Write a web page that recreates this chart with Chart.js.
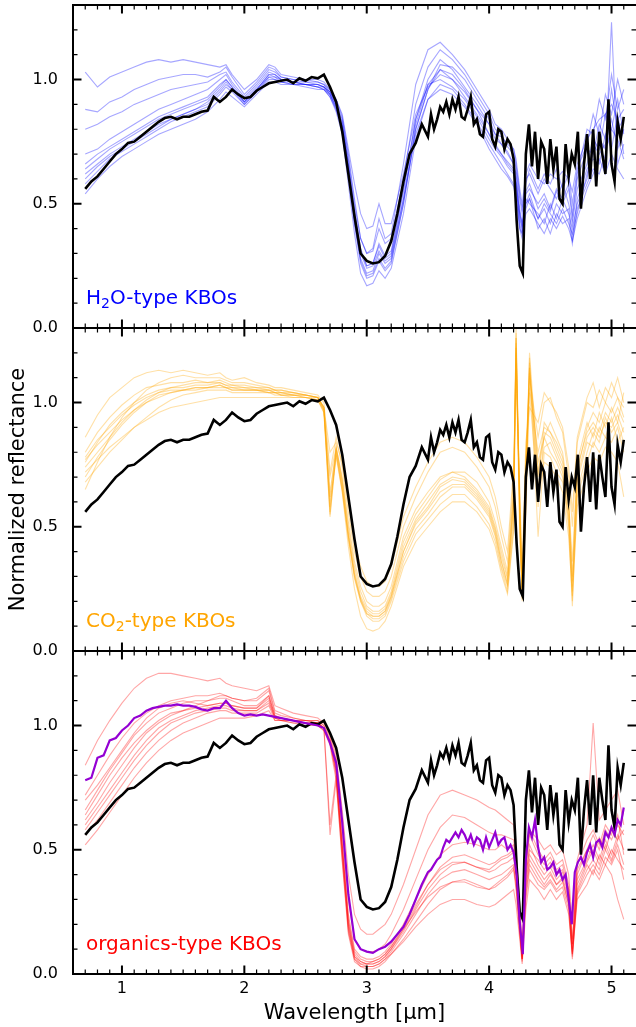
<!DOCTYPE html>
<html lang="en">
<head>
<meta charset="UTF-8">
<title>KBO spectral types</title>
<script src="https://cdn.jsdelivr.net/npm/chart.js"></script>
<style>
  body { margin: 0; background: #fff; }
  #wrap { position: relative; width: 636px; height: 1027px; overflow: hidden; font-family: 'DejaVu Sans', sans-serif; }
  #wrap canvas { position: absolute; left: 0; top: 0; }
  .tag { position: absolute; left: 86px; font-size: 20px; line-height: 20px; white-space: nowrap; z-index: 5; }
  .tag sub { font-size: 14px; vertical-align: -4px; line-height: 0; }
</style>
</head>
<body>
<div id="wrap">
  <canvas id="p1" width="636" height="1027"></canvas>
  <canvas id="p2" width="636" height="1027"></canvas>
  <canvas id="p3" width="636" height="1027"></canvas>
  <div class="tag" style="top:287px;color:#0000ff">H<sub>2</sub>O-type KBOs</div>
  <div class="tag" style="top:610px;color:#ffa500">CO<sub>2</sub>-type KBOs</div>
  <div class="tag" style="top:933px;color:#ff0000">organics-type KBOs</div>
</div>
<script>
// wavelength grid (um) for the black reference and the purple mean spectrum
const wl = [
  0.70, 0.75, 0.80, 0.85, 0.90, 0.95, 1.00, 1.05, 1.10, 1.15,
  1.20, 1.25, 1.30, 1.35, 1.40, 1.45, 1.50, 1.55, 1.60, 1.65,
  1.70, 1.75, 1.80, 1.85, 1.90, 1.95, 2.00, 2.05, 2.10, 2.15,
  2.20, 2.25, 2.30, 2.35, 2.40, 2.45, 2.50, 2.55, 2.60, 2.65,
  2.70, 2.75, 2.80, 2.85, 2.90, 2.95, 3.00, 3.05, 3.10, 3.15,
  3.20, 3.25, 3.30, 3.35, 3.40, 3.45, 3.50,
  3.525, 3.55, 3.575, 3.60, 3.625, 3.65, 3.675, 3.70, 3.725, 3.75,
  3.775, 3.80, 3.825, 3.85, 3.875, 3.90, 3.925, 3.95, 3.975, 4.00,
  4.025, 4.05, 4.075, 4.10, 4.125, 4.15, 4.175, 4.20, 4.225, 4.25,
  4.275, 4.30, 4.325, 4.35, 4.375, 4.40, 4.425, 4.45, 4.475, 4.50,
  4.525, 4.55, 4.575, 4.60, 4.625, 4.65, 4.675, 4.70, 4.725, 4.75,
  4.775, 4.80, 4.825, 4.85, 4.875, 4.90, 4.925, 4.95, 4.975, 5.00,
  5.025, 5.05, 5.075, 5.10
];

// black reference spectrum (same in every panel)
const refSpec = [
  0.56, 0.59, 0.61, 0.64, 0.67, 0.70, 0.72, 0.745, 0.75, 0.77,
  0.79, 0.81, 0.83, 0.845, 0.85, 0.84, 0.85, 0.85, 0.86, 0.87,
  0.875, 0.93, 0.91, 0.93, 0.96, 0.94, 0.925, 0.93, 0.955, 0.97,
  0.985, 0.99, 0.995, 1.0, 0.985, 1.005, 0.995, 1.01, 1.005, 1.02,
  0.97, 0.91, 0.79, 0.62, 0.45, 0.30, 0.27, 0.26, 0.265, 0.29,
  0.35, 0.46, 0.59, 0.70, 0.745, 0.82, 0.77,
  0.86, 0.80, 0.84, 0.89, 0.87, 0.91, 0.86, 0.92, 0.88, 0.93,
  0.85, 0.84, 0.88, 0.93, 0.82, 0.84, 0.78, 0.77, 0.86, 0.87,
  0.76, 0.73, 0.80, 0.79, 0.72, 0.76, 0.74, 0.68, 0.43, 0.25,
  0.22, 0.70, 0.82, 0.65, 0.79, 0.60, 0.75, 0.72, 0.58, 0.76,
  0.64, 0.73, 0.52, 0.50, 0.74, 0.61, 0.70, 0.66, 0.79, 0.48,
  0.66, 0.78, 0.60, 0.80, 0.57, 0.79, 0.70, 0.62, 0.92, 0.66,
  0.59, 0.83, 0.76, 0.85
];

// purple organics mean spectrum (bottom panel)
const purpleSpec = [
  0.78, 0.79, 0.87, 0.88, 0.94, 0.95, 0.98, 1.00, 1.03, 1.04,
  1.06, 1.07, 1.075, 1.08, 1.08, 1.085, 1.08, 1.08, 1.075, 1.065,
  1.06, 1.07, 1.07, 1.10, 1.07, 1.05, 1.04, 1.045, 1.04, 1.045,
  1.04, 1.035, 1.03, 1.025, 1.02, 1.015, 1.01, 1.005, 1.0, 0.99,
  0.93, 0.85, 0.61, 0.32, 0.14, 0.10, 0.09, 0.085, 0.10, 0.11,
  0.13, 0.16, 0.19, 0.24, 0.30, 0.36, 0.41,
  0.42, 0.44, 0.46, 0.47, 0.51, 0.54, 0.53, 0.55, 0.57, 0.55,
  0.58, 0.56, 0.53, 0.56, 0.52, 0.55, 0.54, 0.50, 0.55, 0.51,
  0.54, 0.57, 0.52, 0.54, 0.55, 0.50, 0.52, 0.49, 0.40, 0.21,
  0.08, 0.46, 0.59, 0.55, 0.62, 0.51, 0.45, 0.47, 0.42, 0.43,
  0.45, 0.40, 0.42, 0.38, 0.40, 0.30, 0.20, 0.41, 0.45, 0.47,
  0.44, 0.49, 0.52, 0.47, 0.53, 0.54, 0.51, 0.57, 0.55, 0.59,
  0.56, 0.62, 0.60, 0.67
];

// coarser grid for the individual KBO spectra
const wlT = [
  0.7, 0.8, 0.9, 1.0, 1.1, 1.2, 1.3, 1.4, 1.5, 1.6,
  1.7, 1.8, 1.85, 1.9, 2.0, 2.1, 2.2, 2.25, 2.3, 2.4,
  2.5, 2.6, 2.65, 2.7, 2.75, 2.8, 2.85, 2.9, 2.95, 3.0,
  3.05, 3.1, 3.15, 3.2, 3.3, 3.4, 3.5, 3.6, 3.7, 3.8,
  3.9, 4.0, 4.05, 4.1, 4.15, 4.2, 4.22, 4.25, 4.27, 4.3,
  4.33, 4.4, 4.45, 4.5, 4.55, 4.6, 4.65, 4.68, 4.72, 4.8,
  4.85, 4.9, 4.95, 5.0, 5.05, 5.1
];

const h2oSpectra = [
  [1.03, 0.97, 1.01, 1.03, 1.05, 1.07, 1.08, 1.07, 1.08, 1.07,
   1.06, 1.05, 1.06, 1.02, 0.96, 1.0, 1.06, 1.05, 1.02, 1.01,
   1.0, 1.0, 0.99, 0.96, 0.92, 0.86, 0.72, 0.58, 0.46, 0.40,
   0.41, 0.50, 0.42, 0.42, 0.62, 0.86, 0.97, 1.02, 1.0, 0.95,
   0.88, 0.82, 0.78, 0.77, 0.74, 0.72, 0.68, 0.56, 0.50, 0.62,
   0.66, 0.60, 0.58, 0.62, 0.60, 0.63, 0.60, 0.55, 0.66, 0.76,
   0.80, 0.84, 0.86, 0.90, 0.84, 0.88],
  [0.88, 0.87, 0.91, 0.93, 0.96, 0.98, 1.0, 1.01, 1.02, 1.02,
   1.01, 1.03, 1.05, 1.01, 0.94, 0.99, 1.05, 1.04, 1.01, 1.0,
   1.0, 0.99, 0.98, 0.95, 0.90, 0.82, 0.66, 0.48, 0.32, 0.25,
   0.26, 0.33, 0.28, 0.30, 0.55, 0.84, 1.0, 1.08, 1.04, 0.97,
   0.90, 0.82, 0.76, 0.74, 0.71, 0.66, 0.62, 0.48, 0.42, 0.55,
   0.58, 0.48, 0.52, 0.47, 0.55, 0.50, 0.56, 0.44, 0.60, 0.72,
   0.70, 0.82, 0.76, 0.96, 0.80, 0.84],
  [0.80, 0.82, 0.85, 0.87, 0.90, 0.92, 0.94, 0.96, 0.97, 0.98,
   0.99, 1.02, 1.03, 0.99, 0.93, 0.98, 1.04, 1.03, 1.01, 1.0,
   0.99, 0.99, 0.98, 0.96, 0.92, 0.85, 0.70, 0.52, 0.36, 0.30,
   0.31, 0.40, 0.34, 0.36, 0.60, 0.90, 1.05, 1.12, 1.08, 1.02,
   0.94, 0.86, 0.80, 0.78, 0.73, 0.70, 0.64, 0.52, 0.46, 0.60,
   0.62, 0.54, 0.60, 0.56, 0.52, 0.58, 0.50, 0.42, 0.56, 0.66,
   0.76, 0.72, 0.86, 0.80, 0.92, 0.78],
  [0.70, 0.72, 0.76, 0.79, 0.82, 0.85, 0.88, 0.90, 0.92, 0.94,
   0.96, 1.0, 1.02, 0.98, 0.92, 0.97, 1.03, 1.02, 1.0, 0.99,
   0.99, 0.98, 0.97, 0.94, 0.88, 0.80, 0.62, 0.42, 0.27, 0.21,
   0.22, 0.28, 0.24, 0.27, 0.50, 0.80, 0.96, 1.04, 1.02, 0.96,
   0.88, 0.78, 0.74, 0.70, 0.66, 0.63, 0.58, 0.42, 0.38, 0.50,
   0.54, 0.44, 0.48, 0.42, 0.50, 0.46, 0.48, 0.36, 0.52, 0.64,
   0.68, 0.66, 0.78, 0.72, 0.86, 0.70],
  [0.66, 0.70, 0.73, 0.76, 0.79, 0.82, 0.85, 0.87, 0.89, 0.91,
   0.93, 0.98, 1.0, 0.97, 0.91, 0.96, 1.02, 1.01, 1.0, 0.99,
   0.98, 0.98, 0.97, 0.95, 0.90, 0.83, 0.66, 0.46, 0.31, 0.25,
   0.26, 0.34, 0.29, 0.31, 0.56, 0.84, 0.98, 1.0, 0.97, 0.92,
   0.85, 0.76, 0.72, 0.69, 0.65, 0.62, 0.56, 0.44, 0.40, 0.52,
   0.50, 0.46, 0.42, 0.50, 0.44, 0.52, 0.46, 0.40, 0.50, 0.60,
   0.74, 0.70, 0.74, 0.84, 0.72, 0.80],
  [0.62, 0.66, 0.70, 0.73, 0.76, 0.79, 0.82, 0.84, 0.86, 0.88,
   0.91, 0.96, 0.99, 0.96, 0.90, 0.95, 1.01, 1.01, 0.99, 0.98,
   0.98, 0.97, 0.96, 0.93, 0.87, 0.78, 0.58, 0.38, 0.22, 0.17,
   0.18, 0.23, 0.20, 0.24, 0.46, 0.76, 0.92, 0.98, 0.96, 0.90,
   0.83, 0.74, 0.70, 0.66, 0.62, 0.58, 0.54, 0.40, 0.36, 0.48,
   0.52, 0.40, 0.44, 0.38, 0.46, 0.42, 0.44, 0.34, 0.48, 0.58,
   0.64, 0.62, 0.70, 1.23, 0.66, 0.74],
  [0.58, 0.63, 0.68, 0.71, 0.74, 0.77, 0.80, 0.83, 0.85, 0.87,
   0.89, 0.94, 0.97, 0.95, 0.90, 0.95, 1.0, 1.0, 0.99, 0.98,
   0.98, 0.97, 0.97, 0.94, 0.89, 0.80, 0.62, 0.42, 0.26, 0.20,
   0.21, 0.27, 0.23, 0.26, 0.50, 0.80, 0.96, 1.06, 1.05, 1.0,
   0.92, 0.84, 0.78, 0.74, 0.70, 0.66, 0.60, 0.46, 0.40, 0.54,
   0.56, 0.50, 0.54, 0.48, 0.56, 0.52, 0.58, 0.46, 0.62, 0.80,
   0.78, 0.92, 0.84, 1.02, 0.88, 0.96],
  [0.54, 0.60, 0.65, 0.69, 0.72, 0.75, 0.78, 0.80, 0.82, 0.84,
   0.87, 0.92, 0.95, 0.93, 0.89, 0.94, 0.99, 0.99, 0.98, 0.98,
   0.97, 0.96, 0.96, 0.93, 0.88, 0.81, 0.64, 0.45, 0.30, 0.24,
   0.25, 0.31, 0.27, 0.29, 0.52, 0.78, 0.92, 0.96, 0.94, 0.89,
   0.82, 0.72, 0.68, 0.64, 0.61, 0.57, 0.52, 0.40, 0.38, 0.46,
   0.48, 0.42, 0.38, 0.44, 0.40, 0.45, 0.40, 0.35, 0.44, 0.56,
   0.62, 0.68, 0.62, 0.70, 0.64, 0.60],
  [0.64, 0.68, 0.72, 0.75, 0.78, 0.81, 0.84, 0.86, 0.88, 0.90,
   0.92, 0.97, 1.0, 0.97, 0.91, 0.96, 1.02, 1.02, 1.0, 0.99,
   0.98, 0.98, 0.97, 0.95, 0.91, 0.84, 0.68, 0.50, 0.36, 0.30,
   0.32, 0.44, 0.36, 0.38, 0.66, 0.98, 1.12, 1.15, 1.10, 1.04,
   0.96, 0.88, 0.82, 0.80, 0.76, 0.72, 0.66, 0.54, 0.48, 0.58,
   0.64, 0.56, 0.62, 0.58, 0.64, 0.56, 0.62, 0.50, 0.64, 0.74,
   0.86, 0.78, 0.94, 0.86, 1.0, 0.90],
  [0.60, 0.65, 0.69, 0.72, 0.75, 0.78, 0.81, 0.84, 0.86, 0.88,
   0.90, 0.95, 0.98, 0.96, 0.91, 0.96, 1.01, 1.0, 0.99, 0.99,
   0.98, 0.97, 0.96, 0.94, 0.89, 0.81, 0.64, 0.44, 0.28, 0.22,
   0.23, 0.30, 0.26, 0.28, 0.52, 0.82, 0.98, 1.04, 1.0, 0.93,
   0.86, 0.78, 0.73, 0.70, 0.67, 0.64, 0.58, 0.46, 0.42, 0.50,
   0.52, 0.44, 0.50, 0.46, 0.42, 0.48, 0.42, 0.38, 0.46, 0.62,
   0.70, 0.76, 0.72, 0.80, 0.76, 0.68]
];

const co2Spectra = [
  [0.86, 0.95, 1.02, 1.06, 1.10, 1.12, 1.13, 1.12, 1.13, 1.12,
   1.11, 1.12, 1.10, 1.09, 1.10, 1.08, 1.07, 1.06, 1.06, 1.05,
   1.04, 1.03, 1.0, 0.72, 0.86, 0.74, 0.56, 0.40, 0.30, 0.24,
   0.22, 0.22, 0.24, 0.30, 0.50, 0.62, 0.72, 0.80, 0.82, 0.80,
   0.74, 0.66, 0.58, 0.46, 0.36, 0.70, 1.20, 0.62, 0.30, 0.80,
   1.10, 0.86, 1.0, 1.02, 0.94, 0.88, 0.70, 0.50, 0.84, 1.0,
   0.98, 1.05, 1.0, 1.08, 1.02, 0.98],
  [0.80, 0.88, 0.94, 0.99, 1.03, 1.06, 1.07, 1.08, 1.08, 1.09,
   1.08, 1.09, 1.08, 1.07, 1.07, 1.06, 1.06, 1.05, 1.05, 1.04,
   1.03, 1.02, 0.98, 0.56, 0.82, 0.68, 0.48, 0.32, 0.22, 0.17,
   0.15, 0.15, 0.17, 0.23, 0.42, 0.53, 0.60, 0.67, 0.70, 0.69,
   0.64, 0.57, 0.49, 0.38, 0.29, 0.62, 1.28, 0.55, 0.24, 0.72,
   1.18, 0.58, 0.88, 0.86, 0.80, 0.74, 0.56, 0.24, 0.70, 0.86,
   0.90, 0.86, 0.92, 0.90, 0.95, 0.88],
  [0.76, 0.84, 0.91, 0.96, 1.0, 1.03, 1.05, 1.06, 1.06, 1.07,
   1.07, 1.08, 1.07, 1.06, 1.06, 1.05, 1.05, 1.04, 1.04, 1.03,
   1.03, 1.02, 0.97, 0.54, 0.80, 0.66, 0.46, 0.30, 0.21, 0.16,
   0.14, 0.14, 0.16, 0.22, 0.40, 0.51, 0.57, 0.64, 0.67, 0.67,
   0.62, 0.55, 0.47, 0.36, 0.27, 0.58, 1.24, 0.50, 0.22, 0.66,
   1.12, 0.66, 0.82, 0.84, 0.78, 0.72, 0.52, 0.20, 0.68, 0.84,
   0.82, 0.90, 0.86, 0.94, 0.84, 0.90],
  [0.74, 0.80, 0.86, 0.92, 0.97, 1.0, 1.03, 1.04, 1.05, 1.05,
   1.06, 1.06, 1.06, 1.05, 1.05, 1.05, 1.04, 1.04, 1.03, 1.03,
   1.02, 1.01, 0.96, 0.60, 0.78, 0.64, 0.45, 0.29, 0.20, 0.15,
   0.13, 0.13, 0.15, 0.21, 0.38, 0.49, 0.55, 0.62, 0.66, 0.66,
   0.61, 0.54, 0.46, 0.34, 0.26, 0.54, 1.30, 0.58, 0.20, 0.62,
   1.20, 0.72, 0.86, 0.80, 0.76, 0.70, 0.54, 0.26, 0.64, 0.80,
   0.88, 0.84, 0.94, 0.88, 0.92, 0.84],
  [0.72, 0.77, 0.82, 0.86, 0.90, 0.93, 0.96, 0.98, 0.99, 1.0,
   1.01, 1.02, 1.02, 1.02, 1.02, 1.02, 1.02, 1.02, 1.02, 1.02,
   1.02, 1.01, 0.97, 0.70, 0.82, 0.70, 0.52, 0.36, 0.26, 0.20,
   0.18, 0.18, 0.20, 0.26, 0.46, 0.57, 0.64, 0.70, 0.72, 0.72,
   0.68, 0.60, 0.52, 0.42, 0.32, 0.66, 1.16, 0.60, 0.26, 0.76,
   1.06, 0.80, 0.90, 0.88, 0.84, 0.78, 0.60, 0.36, 0.74, 0.88,
   0.92, 0.88, 0.96, 0.92, 0.98, 0.92],
  [0.68, 0.74, 0.80, 0.85, 0.90, 0.94, 0.98, 1.01, 1.03, 1.04,
   1.05, 1.05, 1.05, 1.04, 1.04, 1.04, 1.04, 1.03, 1.03, 1.02,
   1.02, 1.01, 0.96, 0.55, 0.79, 0.65, 0.46, 0.30, 0.20, 0.14,
   0.12, 0.12, 0.14, 0.20, 0.36, 0.47, 0.53, 0.59, 0.63, 0.63,
   0.58, 0.51, 0.44, 0.33, 0.24, 0.50, 1.26, 0.52, 0.21, 0.58,
   1.16, 0.46, 0.80, 0.78, 0.72, 0.68, 0.50, 0.18, 0.62, 0.76,
   0.84, 0.80, 0.86, 0.84, 0.90, 0.80],
  [0.65, 0.76, 0.86, 0.94, 1.0, 1.05, 1.08, 1.10, 1.11, 1.10,
   1.10, 1.10, 1.09, 1.08, 1.08, 1.07, 1.06, 1.05, 1.05, 1.04,
   1.03, 1.02, 0.98, 0.58, 0.80, 0.64, 0.42, 0.25, 0.14, 0.09,
   0.08, 0.09, 0.12, 0.18, 0.34, 0.44, 0.50, 0.56, 0.60, 0.60,
   0.56, 0.49, 0.42, 0.31, 0.23, 0.48, 1.22, 0.46, 0.22, 0.56,
   1.04, 0.62, 0.76, 0.74, 0.70, 0.64, 0.46, 0.22, 0.58, 0.72,
   0.78, 0.76, 0.82, 0.80, 0.76, 0.62],
  [0.78, 0.85, 0.90, 0.95, 0.99, 1.02, 1.04, 1.05, 1.05, 1.06,
   1.06, 1.07, 1.06, 1.05, 1.05, 1.05, 1.04, 1.04, 1.03, 1.03,
   1.02, 1.02, 0.98, 0.80, 0.84, 0.76, 0.60, 0.44, 0.34, 0.28,
   0.26, 0.26, 0.28, 0.34, 0.54, 0.66, 0.76, 0.84, 0.86, 0.84,
   0.78, 0.70, 0.62, 0.50, 0.40, 0.74, 1.10, 0.66, 0.32, 0.84,
   0.98, 0.92, 1.04, 1.0, 0.96, 0.90, 0.74, 0.56, 0.86, 1.02,
   1.08, 0.98, 1.06, 1.02, 1.10, 1.0],
  [0.70, 0.78, 0.85, 0.91, 0.96, 1.0, 1.02, 1.04, 1.05, 1.06,
   1.06, 1.07, 1.06, 1.06, 1.05, 1.05, 1.05, 1.04, 1.04, 1.03,
   1.03, 1.02, 0.97, 0.64, 0.81, 0.67, 0.47, 0.31, 0.21, 0.15,
   0.14, 0.14, 0.16, 0.22, 0.40, 0.52, 0.58, 0.66, 0.69, 0.68,
   0.63, 0.56, 0.48, 0.36, 0.27, 0.60, 1.22, 0.56, 0.23, 0.68,
   1.14, 0.70, 0.92, 0.88, 0.82, 0.76, 0.58, 0.30, 0.72, 0.90,
   0.96, 0.92, 1.0, 0.96, 1.02, 0.94],
  [0.77, 0.83, 0.88, 0.93, 0.97, 1.01, 1.04, 1.06, 1.07, 1.08,
   1.08, 1.08, 1.07, 1.07, 1.06, 1.06, 1.05, 1.05, 1.04, 1.04,
   1.03, 1.02, 0.98, 0.62, 0.82, 0.69, 0.50, 0.34, 0.24, 0.18,
   0.16, 0.16, 0.18, 0.24, 0.44, 0.55, 0.62, 0.69, 0.72, 0.70,
   0.65, 0.58, 0.50, 0.40, 0.30, 0.64, 1.26, 0.58, 0.25, 0.74,
   1.14, 0.76, 0.86, 0.92, 0.86, 0.80, 0.62, 0.28, 0.76, 0.92,
   0.86, 0.96, 0.90, 0.98, 0.92, 1.04]
];

const orgSpectra = [
  [0.84, 0.94, 1.02, 1.09, 1.15, 1.19, 1.21, 1.21, 1.20, 1.19,
   1.18, 1.19, 1.17, 1.16, 1.15, 1.14, 1.16, 1.08, 1.07, 1.05,
   1.04, 1.03, 1.01, 0.97, 0.88, 0.66, 0.40, 0.24, 0.18, 0.16,
   0.16, 0.18, 0.20, 0.24, 0.36, 0.50, 0.64, 0.72, 0.74, 0.72,
   0.70, 0.67, 0.66, 0.64, 0.62, 0.60, 0.50, 0.28, 0.12, 0.46,
   0.58, 0.54, 0.50, 0.52, 0.48, 0.50, 0.40, 0.20, 0.46, 0.60,
   1.01, 0.62, 0.66, 0.70, 0.74, 0.60],
  [0.72, 0.80, 0.88, 0.95, 1.01, 1.05, 1.08, 1.10, 1.11, 1.12,
   1.12, 1.13, 1.12, 1.11, 1.10, 1.10, 1.14, 1.05, 1.04, 1.03,
   1.02, 1.02, 1.0, 0.95, 0.84, 0.56, 0.24, 0.10, 0.07, 0.06,
   0.06, 0.07, 0.09, 0.12, 0.20, 0.30, 0.40, 0.48, 0.52, 0.53,
   0.52, 0.50, 0.50, 0.52, 0.50, 0.52, 0.42, 0.22, 0.08, 0.40,
   0.50, 0.46, 0.42, 0.45, 0.40, 0.42, 0.34, 0.12, 0.40, 0.50,
   0.48, 0.55, 0.50, 0.58, 0.54, 0.66],
  [0.66, 0.74, 0.82, 0.89, 0.96, 1.01, 1.05, 1.07, 1.09, 1.10,
   1.10, 1.11, 1.11, 1.10, 1.08, 1.08, 1.12, 1.04, 1.03, 1.02,
   1.02, 1.01, 0.99, 0.60, 0.80, 0.50, 0.20, 0.07, 0.04, 0.03,
   0.03, 0.04, 0.06, 0.09, 0.16, 0.24, 0.32, 0.38, 0.41, 0.42,
   0.40, 0.38, 0.39, 0.40, 0.42, 0.44, 0.36, 0.18, 0.06, 0.34,
   0.46, 0.40, 0.36, 0.40, 0.36, 0.38, 0.28, 0.08, 0.34, 0.44,
   0.40, 0.48, 0.44, 0.50, 0.46, 0.42],
  [0.60, 0.67, 0.74, 0.81, 0.88, 0.94, 0.99, 1.02, 1.04, 1.06,
   1.07, 1.08, 1.08, 1.07, 1.06, 1.06, 1.10, 1.03, 1.02, 1.02,
   1.01, 1.01, 0.99, 0.94, 0.82, 0.52, 0.21, 0.08, 0.05, 0.04,
   0.04, 0.05, 0.07, 0.10, 0.17, 0.26, 0.34, 0.40, 0.44, 0.45,
   0.43, 0.41, 0.42, 0.44, 0.45, 0.47, 0.40, 0.20, 0.07, 0.38,
   0.52, 0.44, 0.40, 0.43, 0.38, 0.41, 0.32, 0.10, 0.38, 0.46,
   0.52, 0.46, 0.54, 0.48, 0.56, 0.50],
  [0.56, 0.62, 0.69, 0.76, 0.83, 0.89, 0.94, 0.98, 1.01, 1.03,
   1.05, 1.06, 1.06, 1.05, 1.05, 1.05, 1.08, 1.02, 1.02, 1.01,
   1.01, 1.0, 0.98, 0.93, 0.80, 0.48, 0.18, 0.06, 0.03, 0.02,
   0.02, 0.03, 0.05, 0.08, 0.14, 0.21, 0.28, 0.34, 0.37, 0.38,
   0.36, 0.34, 0.35, 0.37, 0.39, 0.42, 0.34, 0.16, 0.05, 0.30,
   0.42, 0.36, 0.34, 0.37, 0.33, 0.35, 0.26, 0.06, 0.32, 0.40,
   0.44, 0.40, 0.47, 0.44, 0.50, 0.38],
  [0.52, 0.58, 0.65, 0.72, 0.79, 0.85, 0.90, 0.94, 0.97, 0.99,
   1.01, 1.03, 1.03, 1.03, 1.03, 1.04, 1.06, 1.02, 1.02, 1.01,
   1.0, 1.0, 0.98, 0.92, 0.78, 0.45, 0.16, 0.05, 0.03, 0.03,
   0.03, 0.04, 0.06, 0.08, 0.13, 0.19, 0.24, 0.28, 0.30, 0.30,
   0.28, 0.27, 0.28, 0.30, 0.32, 0.34, 0.28, 0.14, 0.04, 0.26,
   0.38, 0.34, 0.30, 0.34, 0.30, 0.33, 0.24, 0.08, 0.30, 0.36,
   0.42, 0.38, 0.44, 0.40, 0.30, 0.22],
  [0.70, 0.76, 0.83, 0.90, 0.97, 1.03, 1.07, 1.09, 1.10, 1.09,
   1.08, 1.09, 1.09, 1.08, 1.07, 1.07, 1.11, 1.03, 1.03, 1.02,
   1.01, 1.01, 0.99, 0.56, 0.78, 0.46, 0.17, 0.06, 0.04, 0.04,
   0.04, 0.05, 0.07, 0.10, 0.18, 0.27, 0.36, 0.43, 0.47, 0.48,
   0.46, 0.44, 0.45, 0.47, 0.48, 0.50, 0.42, 0.20, 0.06, 0.42,
   0.56, 0.48, 0.44, 0.47, 0.42, 0.44, 0.34, 0.12, 0.42, 0.50,
   0.56, 0.50, 0.58, 0.54, 0.60, 0.56],
  [0.64, 0.72, 0.80, 0.87, 0.93, 0.98, 1.02, 1.05, 1.06, 1.08,
   1.10, 1.12, 1.12, 1.11, 1.10, 1.11, 1.15, 1.06, 1.05, 1.03,
   1.02, 1.02, 1.0, 0.96, 0.86, 0.60, 0.30, 0.14, 0.10, 0.09,
   0.09, 0.10, 0.12, 0.16, 0.26, 0.38, 0.50, 0.59, 0.64, 0.63,
   0.60, 0.57, 0.56, 0.56, 0.55, 0.54, 0.46, 0.24, 0.09, 0.44,
   0.58, 0.50, 0.46, 0.49, 0.44, 0.46, 0.36, 0.14, 0.44, 0.54,
   0.58, 0.52, 0.60, 0.56, 0.64, 0.48],
  [0.62, 0.69, 0.77, 0.84, 0.91, 0.97, 1.01, 1.04, 1.06, 1.07,
   1.08, 1.09, 1.09, 1.08, 1.07, 1.07, 1.12, 1.04, 1.03, 1.02,
   1.02, 1.01, 0.99, 0.93, 0.81, 0.50, 0.19, 0.07, 0.05, 0.04,
   0.05, 0.06, 0.08, 0.11, 0.19, 0.28, 0.36, 0.42, 0.45, 0.45,
   0.43, 0.42, 0.44, 0.46, 0.47, 0.49, 0.40, 0.19, 0.06, 0.36,
   0.48, 0.42, 0.38, 0.41, 0.36, 0.39, 0.30, 0.09, 0.36, 0.45,
   0.50, 0.44, 0.52, 0.46, 0.54, 0.58],
  [0.58, 0.65, 0.72, 0.79, 0.86, 0.92, 0.97, 1.01, 1.03, 1.05,
   1.06, 1.07, 1.07, 1.06, 1.06, 1.06, 1.09, 1.03, 1.02, 1.02,
   1.01, 1.01, 0.99, 0.94, 0.82, 0.52, 0.22, 0.09, 0.06, 0.05,
   0.05, 0.06, 0.08, 0.11, 0.18, 0.25, 0.31, 0.35, 0.37, 0.37,
   0.35, 0.34, 0.36, 0.38, 0.40, 0.43, 0.36, 0.17, 0.06, 0.32,
   0.44, 0.38, 0.35, 0.38, 0.34, 0.37, 0.28, 0.07, 0.33, 0.42,
   0.46, 0.42, 0.50, 0.45, 0.52, 0.44]
];

const xTickLabels = [1, 2, 3, 4, 5];
const yTickLabels = [0, 0.5, 1.0];

Chart.defaults.font.family = "'DejaVu Sans', sans-serif";
Chart.defaults.color = '#000';

function pts(xs, ys) {
  return xs.map((v, i) => ({ x: v, y: ys[i] }));
}

// inward ticks on all four sides plus the frame
const frameTicks = {
  id: 'frameTicks',
  afterDraw(chart) {
    const { ctx, chartArea: a } = chart;
    const xs = chart.scales.x, ys = chart.scales.y;
    ctx.save();
    ctx.strokeStyle = '#000';
    for (let i = 7; i <= 51; i++) {
      const major = i % 10 === 0;
      const px = xs.getPixelForValue(i / 10);
      const len = major ? 8.5 : 4.5;
      ctx.lineWidth = major ? 2 : 1.2;
      ctx.beginPath();
      ctx.moveTo(px, a.bottom); ctx.lineTo(px, a.bottom - len);
      ctx.moveTo(px, a.top); ctx.lineTo(px, a.top + len);
      ctx.stroke();
    }
    for (let i = 1; i <= 12; i++) {
      const major = i % 5 === 0;
      const py = ys.getPixelForValue(i / 10);
      const len = major ? 8.5 : 4.5;
      ctx.lineWidth = major ? 2 : 1.2;
      ctx.beginPath();
      ctx.moveTo(a.left, py); ctx.lineTo(a.left + len, py);
      ctx.moveTo(a.right, py); ctx.lineTo(a.right - len, py);
      ctx.stroke();
    }
    ctx.lineWidth = 2;
    ctx.beginPath();
    ctx.moveTo(a.right, a.top);
    ctx.lineTo(a.left, a.top);
    ctx.lineTo(a.left, a.bottom);
    ctx.lineTo(a.right, a.bottom);
    ctx.stroke();
    ctx.restore();
  }
};

function makePanel(id, top, bottomPad, thin, thinColor, extra, isBottom, yTitle) {
  const datasets = thin.map(s => ({
    data: pts(wlT, s),
    borderColor: thinColor,
    borderWidth: 1.1,
    order: 3
  }));
  datasets.push({ data: pts(wl, refSpec), borderColor: '#000', borderWidth: 2.6, order: 2 });
  if (extra) datasets.push(extra);

  return new Chart(document.getElementById(id), {
    type: 'line',
    data: { datasets },
    options: {
      responsive: false,
      animation: false,
      devicePixelRatio: 1,
      events: [],
      elements: { point: { radius: 0 }, line: { tension: 0, borderCapStyle: 'butt' } },
      layout: { padding: { left: 0, right: 0, top: top, bottom: bottomPad } },
      plugins: { legend: { display: false }, tooltip: { enabled: false } },
      scales: {
        x: {
          type: 'linear',
          min: 0.6,
          max: 5.2,
          display: isBottom,
          grid: { display: false, drawTicks: false },
          border: { display: false },
          ticks: { font: { size: 16 }, padding: 5, callback: v => String(v) },
          afterBuildTicks: s => { s.ticks = xTickLabels.map(v => ({ value: v })); },
          afterFit: s => { s.height = isBottom ? 53 : 0; s.paddingLeft = 0; s.paddingRight = 0; },
          title: {
            display: isBottom,
            text: 'Wavelength [μm]',
            font: { size: 21 },
            padding: { top: 0, bottom: 1 }
          }
        },
        y: {
          min: 0,
          max: 1.3,
          grid: { display: false, drawTicks: false },
          border: { display: false },
          ticks: { font: { size: 16 }, padding: 15, callback: v => v.toFixed(1) },
          afterBuildTicks: s => { s.ticks = yTickLabels.map(v => ({ value: v })); },
          afterFit: s => { s.width = 73; s.paddingTop = 0; s.paddingBottom = 0; },
          title: {
            display: !!yTitle,
            text: yTitle || '',
            font: { size: 21 },
            padding: { top: 6, bottom: 0 }
          }
        }
      }
    },
    plugins: [frameTicks]
  });
}

makePanel('p1', 5, 699, h2oSpectra, 'rgba(0, 0, 255, 0.35)', null, false, null);
makePanel('p2', 328, 376, co2Spectra, 'rgba(255, 165, 0, 0.35)', null, false, 'Normalized reflectance');
makePanel('p3', 651, 0, orgSpectra, 'rgba(255, 0, 0, 0.35)',
  { data: pts(wl, purpleSpec), borderColor: '#9400d3', borderWidth: 2.2, order: 1 }, true, null);
</script>
</body>
</html>
